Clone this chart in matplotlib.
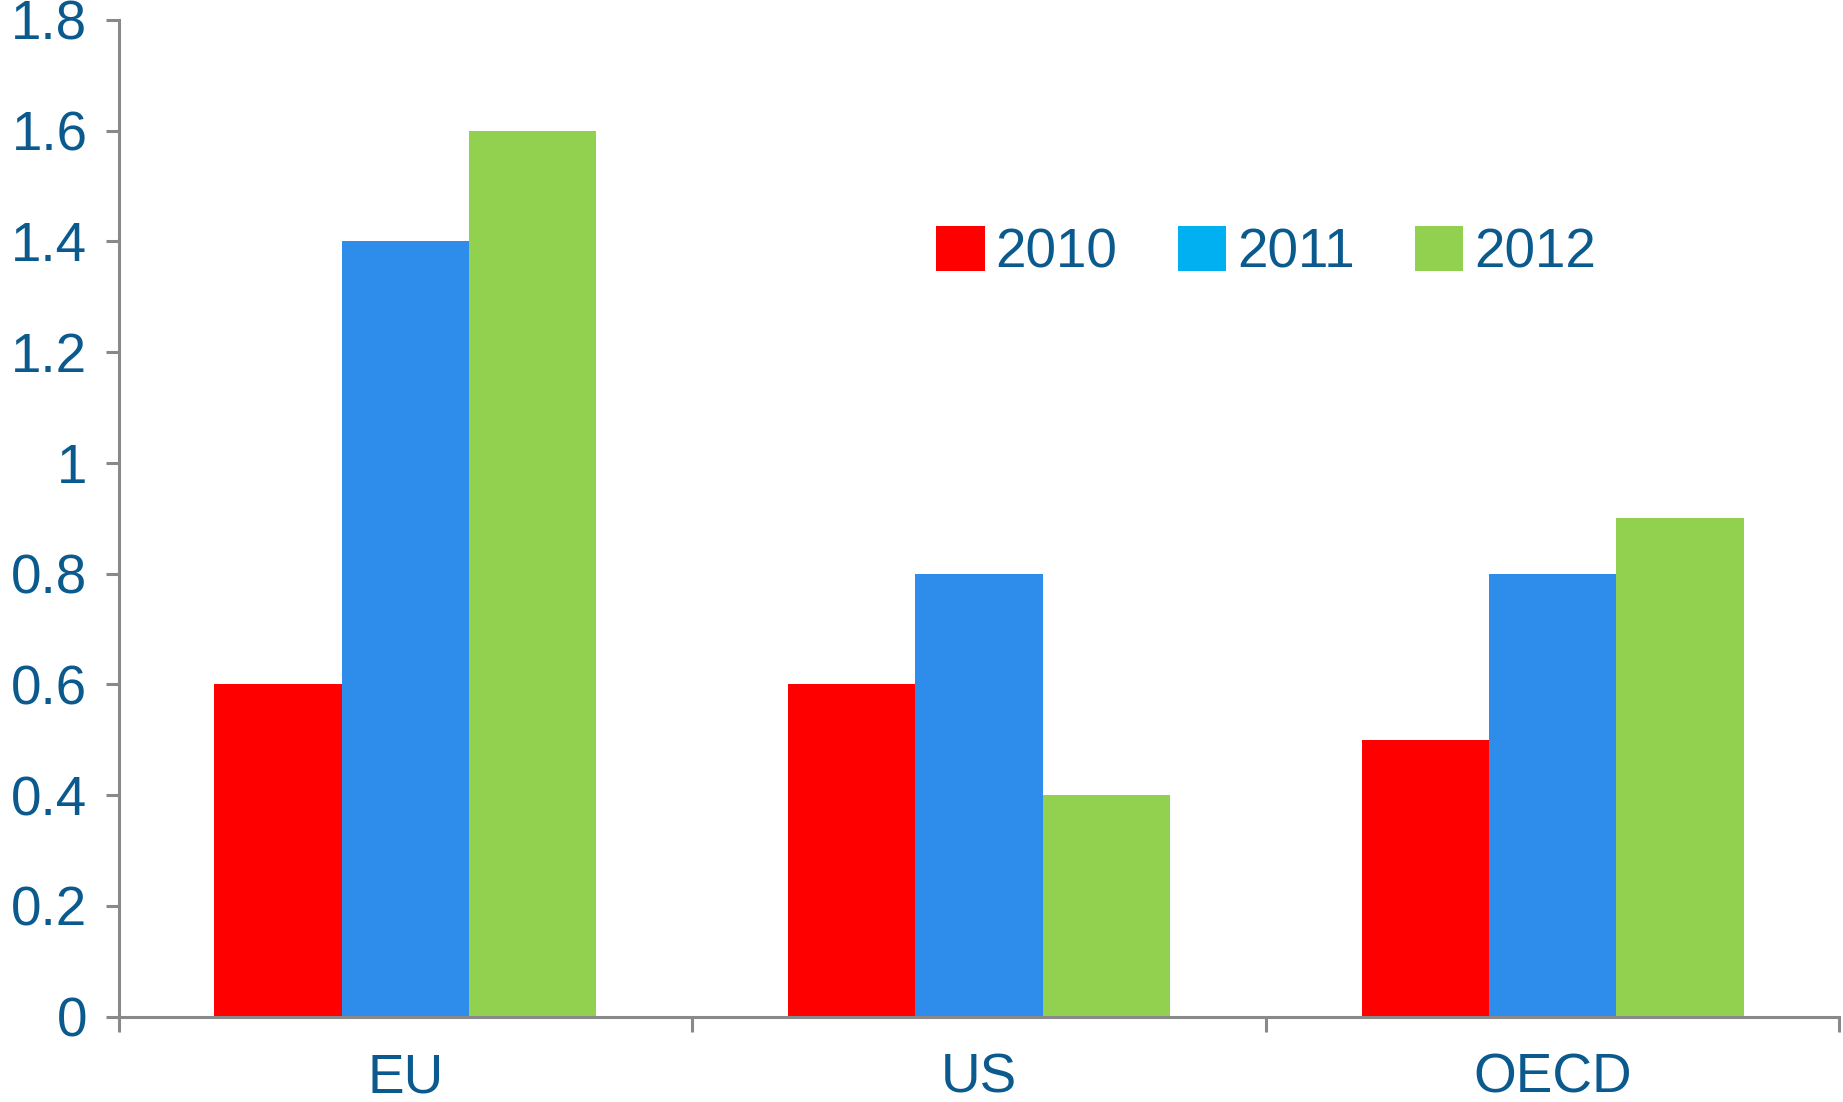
import matplotlib
matplotlib.use('Agg')
import matplotlib.pyplot as plt
from matplotlib.patches import Patch
from matplotlib.ticker import FixedLocator, FuncFormatter
import numpy as np

categories = ['EU', 'US', 'OECD']
years = ['2010', '2011', '2012']
vals_2010 = [0.6, 0.6, 0.5]
vals_2011 = [1.4, 0.8, 0.8]
vals_2012 = [1.6, 0.4, 0.9]
y_ticks = [0, 0.2, 0.4, 0.6, 0.8, 1.0, 1.2, 1.4, 1.6, 1.8]

bar_colors = ['#FF0000', '#2E8DEA', '#92D050']
legend_colors = ['#FF0000', '#00B0F0', '#92D050']
text_color = '#0B5A8E'
axis_color = '#898989'

plt.rcParams['font.family'] = ['Liberation Sans', 'DejaVu Sans']

fig = plt.figure(figsize=(18.43, 11.02), dpi=100)
ax = fig.add_axes([0.0644, 0.0774, 0.9336, 0.9045])

x = np.arange(len(categories))
w = 0.222
for i, vals in enumerate([vals_2010, vals_2011, vals_2012]):
    ax.bar(x + (i - 1) * w, vals, width=w, color=bar_colors[i], linewidth=0, zorder=2)

ax.set_xlim(-0.5, len(categories) - 0.5)
ax.set_ylim(0, 1.8)

for s in ['top', 'right']:
    ax.spines[s].set_visible(False)
for s in ['left', 'bottom']:
    ax.spines[s].set_color(axis_color)
    ax.spines[s].set_linewidth(2.2)
    ax.spines[s].set_zorder(3)

ax.yaxis.set_major_locator(FixedLocator(y_ticks))
ax.yaxis.set_major_formatter(FuncFormatter(lambda v, p: f'{v:g}'))
ax.tick_params(axis='y', direction='out', length=9.5, width=2.2, color=axis_color,
               labelsize=39.5, labelcolor=text_color, pad=13)

ax.xaxis.set_major_locator(FixedLocator(np.arange(len(categories) + 1) - 0.5))
ax.xaxis.set_major_formatter(FuncFormatter(lambda v, p: ''))
ax.xaxis.set_minor_locator(FixedLocator(x))
ax.set_xticklabels(categories, minor=True)
ax.tick_params(axis='x', which='major', direction='out', length=11, width=2.2, color=axis_color)
ax.tick_params(axis='x', which='minor', length=0, labelsize=39.5, labelcolor=text_color, pad=26)

handles = [Patch(facecolor=c, edgecolor='none', label=l) for c, l in zip(legend_colors, years)]
leg = fig.legend(handles=handles, loc='upper left', bbox_to_anchor=(0.508, 0.795), ncol=3,
                 frameon=False, fontsize=39.5, handlelength=0.88, handleheight=0.88,
                 handletextpad=0.2, columnspacing=1.1, borderpad=0, borderaxespad=0)
for t in leg.get_texts():
    t.set_color(text_color)

fig.savefig('out.png', dpi=100)
